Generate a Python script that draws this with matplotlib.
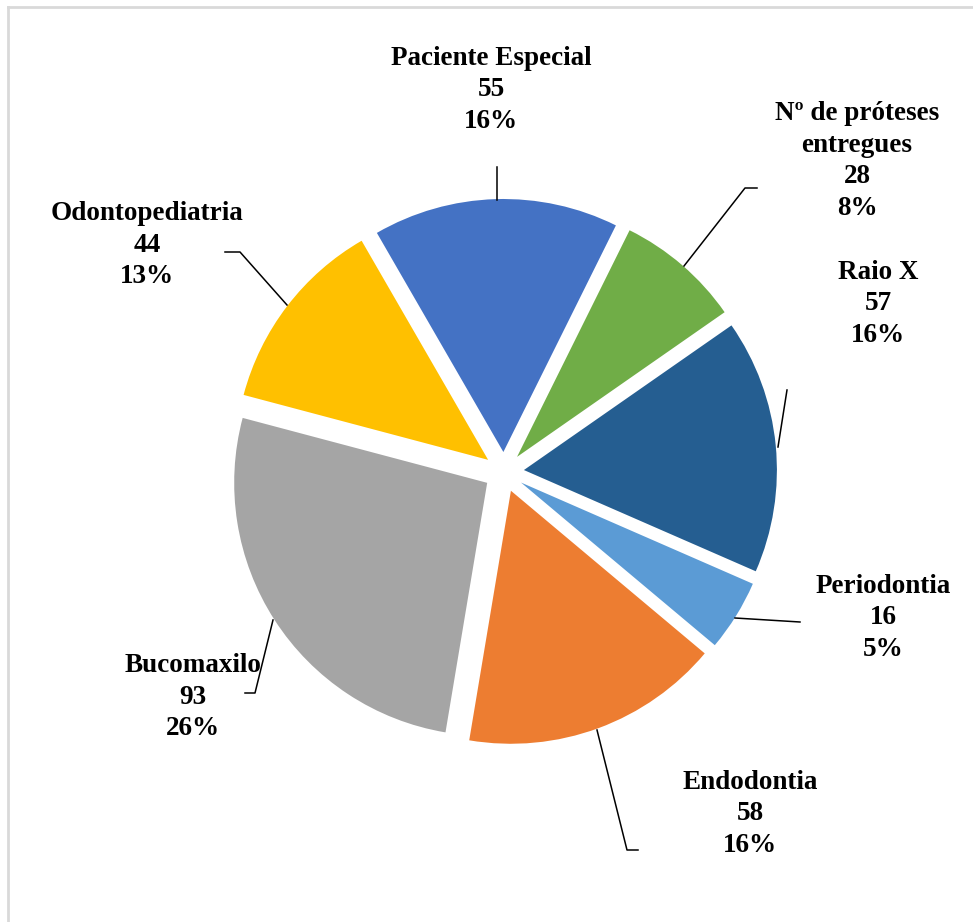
import matplotlib.pyplot as plt
from matplotlib.lines import Line2D

# data
categories = ['Paciente Especial', 'Nº de próteses\nentregues', 'Raio X',
              'Periodontia', 'Endodontia', 'Bucomaxilo', 'Odontopediatria']
values = [55, 28, 57, 16, 58, 93, 44]
percents = [16, 8, 16, 5, 16, 26, 13]   # as printed on the chart
colors = ['#4472C4', '#70AD47', '#255E91', '#5B9BD5', '#ED7D31', '#A5A5A5', '#FFC000']

W, H = 973, 922


def py(y):
    # pixel row (from top) -> data y
    return H - y


# label centres (pixel coords, top-origin) and leader polylines
label_pos = [(491, 90), (857, 161), (878, 304), (883, 618), (750, 814), (193, 697), (147, 245)]
leaders = [
    [(497, 200), (497, 167)],
    [(684, 266), (745, 188), (757, 188)],
    [(778, 447), (787, 390)],
    [(735, 618), (800, 622)],
    [(597, 730), (627, 850), (638, 850)],
    [(273, 620), (255, 693), (245, 693)],
    [(287, 305), (240, 252), (225, 252)],
]

fig = plt.figure(figsize=(W / 100, H / 100), dpi=100)
ax = fig.add_axes([0, 0, 1, 1])

# explode is in data units here (pixels)
ax.pie(values, colors=colors, startangle=120, counterclock=False,
       explode=[20] * len(values), radius=253, center=(504, py(472)),
       wedgeprops=dict(linewidth=0))
ax.set_xlim(0, W)
ax.set_ylim(0, H)
ax.set_aspect('equal')
ax.axis('off')

for name, v, pct, (lx, ly) in zip(categories, values, percents, label_pos):
    ax.text(lx, py(ly), f'{name}\n{v}\n{pct}%', ha='center', va='center',
            fontsize=19.5, fontweight='bold', family='Liberation Serif',
            linespacing=1.35)

for pts in leaders:
    xs = [p[0] for p in pts]
    ys = [py(p[1]) for p in pts]
    ax.plot(xs, ys, color='black', linewidth=1.1)

# chart border (top and left visible)
fig.add_artist(Line2D([8 / W, 8 / W], [0, 1 - 7 / H], color='#D9D9D9', linewidth=2,
                      transform=fig.transFigure))
fig.add_artist(Line2D([8 / W, 1], [1 - 7 / H, 1 - 7 / H], color='#D9D9D9', linewidth=2,
                      transform=fig.transFigure))

fig.savefig('out.png', dpi=100)
